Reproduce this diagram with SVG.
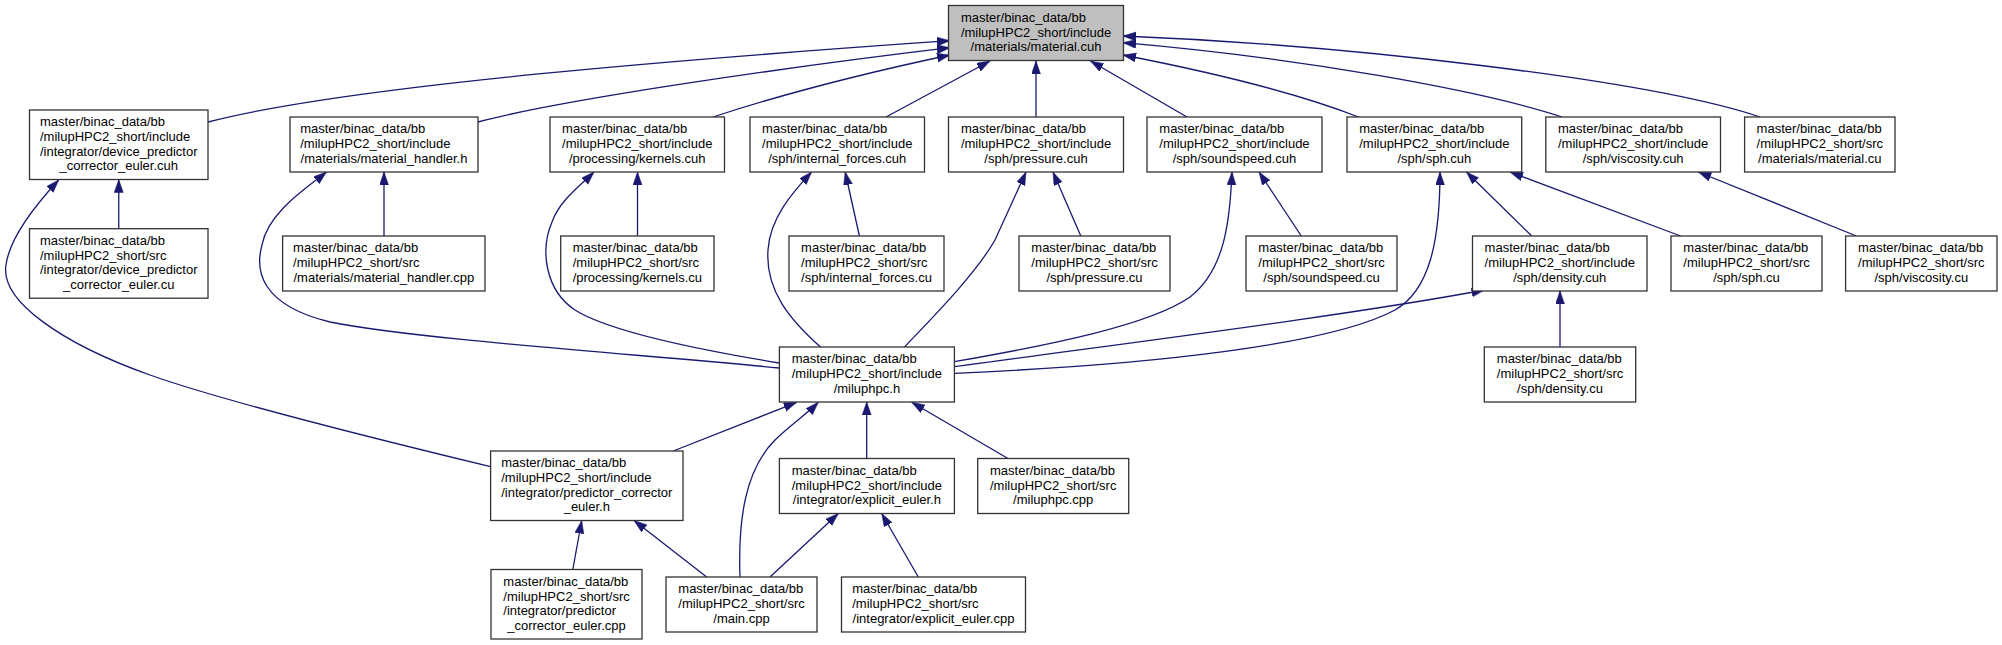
<svg xmlns="http://www.w3.org/2000/svg" width="2002" height="645" viewBox="0 0 2002 645">
<style>
.node rect{fill:#ffffff;stroke:#333333;stroke-width:1.3}
.node.main rect{fill:#bfbfbf}
text{font-family:"Liberation Sans",Arial,Helvetica,sans-serif;font-size:13px;fill:#000000}
.c{text-anchor:middle}
.edges path{fill:none;stroke:#191970;stroke-width:1.3;marker-end:url(#arr)}
</style>
<defs>
<marker id="arr" markerUnits="userSpaceOnUse" markerWidth="14" markerHeight="10" refX="13" refY="4.5" orient="auto">
<path d="M0,0 L13,4.5 L0,9 z" fill="#191970" stroke="#191970" stroke-width="0.5"/>
</marker>
</defs>
<rect x="0" y="0" width="2002" height="645" fill="#ffffff"/>
<g class="edges">
<path d="M208,122 C350,85 700,58 950,40.7"/>
<path d="M478,122 C560,100 780,68 950,47.7"/>
<path d="M713,117 C780,95 870,72 950,55"/>
<path d="M886,117 L990,61"/>
<path d="M1036,117 L1036,61"/>
<path d="M1187,117 L1090.5,61"/>
<path d="M1358.5,117 C1290,90 1200,70 1123,55"/>
<path d="M1562,117 C1480,90 1300,58 1123,42.7"/>
<path d="M1760,117 C1650,80 1350,45 1123,36"/>
<path d="M118.75,228.7 L118.75,179.5"/>
<path d="M384,236 L384,172"/>
<path d="M637.5,236 L637.5,172"/>
<path d="M859.4,236 L845.2,172"/>
<path d="M1080.8,236 L1053,172"/>
<path d="M1301.3,236 L1259,172"/>
<path d="M1531.7,236 L1466.5,172"/>
<path d="M1680.6,236 L1510,172"/>
<path d="M1856.4,236 L1698.3,172"/>
<path d="M1560,347 L1560,291"/>
<path d="M779.4,368 C650,355 420,340 330,322 C260,305 255,270 262,245 C268,212 308,187 326.5,172"/>
<path d="M779.4,363 C700,350 610,332 575,310 C545,290 540,250 552,222 C560,200 580,186 594,172"/>
<path d="M820.5,347 C790,320 765,290 768,250 C770,215 798,187 811.6,172"/>
<path d="M904.5,347 C930,320 975,275 995,240 C1008,212 1018,190 1026,172"/>
<path d="M954.3,361.7 C1050,345 1150,325 1190,297 C1225,270 1230,220 1232,172"/>
<path d="M954.3,366.7 C1150,340 1350,315 1484.6,290"/>
<path d="M954.3,373.3 C1150,365 1330,345 1395,310 C1430,290 1440,240 1440,172"/>
<path d="M673.3,451 L796.7,402.3"/>
<path d="M490.6,466.7 C380,440 220,400 150,375 C60,343 0,300 6,265 C10,235 42,198 58.7,180"/>
<path d="M740,577 C738,520 745,470 775,440 C790,425 807,414 818.3,402.3"/>
<path d="M866.7,458.5 L866.7,402"/>
<path d="M1008,458.5 L911.7,402.3"/>
<path d="M572.8,569.5 L581.7,520.5"/>
<path d="M706.7,577 L634,520.5"/>
<path d="M770,577 L838.3,513.5"/>
<path d="M918.3,577 L881.7,513.5"/>
</g>
<g id="n0" class="node main"><rect x="948.5" y="5.5" width="175" height="55"/>
<text x="960.9" y="21.8">master/binac_data/bb</text><text x="960.9" y="36.5">/milupHPC2_short/include</text><text class="c" x="1036" y="51.2">/materials/material.cuh</text></g>
<g id="n1" class="node"><rect x="29.5" y="110" width="178.5" height="69.5"/>
<text x="40" y="126.3">master/binac_data/bb</text><text x="40" y="141">/milupHPC2_short/include</text><text x="40" y="155.7">/integrator/device_predictor</text><text class="c" x="118.75" y="170.4">_corrector_euler.cuh</text></g>
<g id="n2" class="node"><rect x="290" y="117" width="188" height="55"/>
<text x="300.2" y="133.3">master/binac_data/bb</text><text x="300.2" y="148">/milupHPC2_short/include</text><text class="c" x="384" y="162.7">/materials/material_handler.h</text></g>
<g id="n3" class="node"><rect x="550" y="117" width="174.5" height="55"/>
<text x="562.1" y="133.3">master/binac_data/bb</text><text x="562.1" y="148">/milupHPC2_short/include</text><text class="c" x="637.25" y="162.7">/processing/kernels.cuh</text></g>
<g id="n4" class="node"><rect x="750" y="117" width="174.5" height="55"/>
<text x="762.1" y="133.3">master/binac_data/bb</text><text x="762.1" y="148">/milupHPC2_short/include</text><text class="c" x="837.25" y="162.7">/sph/internal_forces.cuh</text></g>
<g id="n5" class="node"><rect x="948.5" y="117" width="175" height="55"/>
<text x="960.9" y="133.3">master/binac_data/bb</text><text x="960.9" y="148">/milupHPC2_short/include</text><text class="c" x="1036" y="162.7">/sph/pressure.cuh</text></g>
<g id="n6" class="node"><rect x="1147" y="117" width="175" height="55"/>
<text x="1159.3" y="133.3">master/binac_data/bb</text><text x="1159.3" y="148">/milupHPC2_short/include</text><text class="c" x="1234.5" y="162.7">/sph/soundspeed.cuh</text></g>
<g id="n7" class="node"><rect x="1347" y="117" width="174.7" height="55"/>
<text x="1359.2" y="133.3">master/binac_data/bb</text><text x="1359.2" y="148">/milupHPC2_short/include</text><text class="c" x="1434.35" y="162.7">/sph/sph.cuh</text></g>
<g id="n8" class="node"><rect x="1545.8" y="117" width="174.7" height="55"/>
<text x="1558" y="133.3">master/binac_data/bb</text><text x="1558" y="148">/milupHPC2_short/include</text><text class="c" x="1633.15" y="162.7">/sph/viscosity.cuh</text></g>
<g id="n9" class="node"><rect x="1744.6" y="117" width="150.4" height="55"/>
<text x="1756.6" y="133.3">master/binac_data/bb</text><text x="1756.6" y="148">/milupHPC2_short/src</text><text class="c" x="1819.8" y="162.7">/materials/material.cu</text></g>
<g id="n10" class="node"><rect x="29.5" y="228.7" width="178.5" height="69.5"/>
<text x="40" y="245">master/binac_data/bb</text><text x="40" y="259.7">/milupHPC2_short/src</text><text x="40" y="274.4">/integrator/device_predictor</text><text class="c" x="118.75" y="289.1">_corrector_euler.cu</text></g>
<g id="n11" class="node"><rect x="282.6" y="236" width="202.4" height="55"/>
<text x="293.1" y="252.3">master/binac_data/bb</text><text x="293.1" y="267">/milupHPC2_short/src</text><text class="c" x="383.8" y="281.7">/materials/material_handler.cpp</text></g>
<g id="n12" class="node"><rect x="560.7" y="236" width="153.3" height="55"/>
<text x="572.7" y="252.3">master/binac_data/bb</text><text x="572.7" y="267">/milupHPC2_short/src</text><text class="c" x="637.35" y="281.7">/processing/kernels.cu</text></g>
<g id="n13" class="node"><rect x="789" y="236" width="155" height="55"/>
<text x="801.1" y="252.3">master/binac_data/bb</text><text x="801.1" y="267">/milupHPC2_short/src</text><text class="c" x="866.5" y="281.7">/sph/internal_forces.cu</text></g>
<g id="n14" class="node"><rect x="1019" y="236" width="151" height="55"/>
<text x="1031.3" y="252.3">master/binac_data/bb</text><text x="1031.3" y="267">/milupHPC2_short/src</text><text class="c" x="1094.5" y="281.7">/sph/pressure.cu</text></g>
<g id="n15" class="node"><rect x="1246" y="236" width="151" height="55"/>
<text x="1258.3" y="252.3">master/binac_data/bb</text><text x="1258.3" y="267">/milupHPC2_short/src</text><text class="c" x="1321.5" y="281.7">/sph/soundspeed.cu</text></g>
<g id="n16" class="node"><rect x="1472.5" y="236" width="174.5" height="55"/>
<text x="1484.6" y="252.3">master/binac_data/bb</text><text x="1484.6" y="267">/milupHPC2_short/include</text><text class="c" x="1559.75" y="281.7">/sph/density.cuh</text></g>
<g id="n17" class="node"><rect x="1671" y="236" width="151" height="55"/>
<text x="1683.3" y="252.3">master/binac_data/bb</text><text x="1683.3" y="267">/milupHPC2_short/src</text><text class="c" x="1746.5" y="281.7">/sph/sph.cu</text></g>
<g id="n18" class="node"><rect x="1845.6" y="236" width="151.4" height="55"/>
<text x="1858.1" y="252.3">master/binac_data/bb</text><text x="1858.1" y="267">/milupHPC2_short/src</text><text class="c" x="1921.3" y="281.7">/sph/viscosity.cu</text></g>
<g id="n19" class="node"><rect x="779.4" y="347" width="175" height="55"/>
<text x="791.7" y="363.3">master/binac_data/bb</text><text x="791.7" y="378">/milupHPC2_short/include</text><text class="c" x="866.9" y="392.7">/miluphpc.h</text></g>
<g id="n20" class="node"><rect x="1484.3" y="347" width="151.4" height="55"/>
<text x="1496.8" y="363.3">master/binac_data/bb</text><text x="1496.8" y="378">/milupHPC2_short/src</text><text class="c" x="1560" y="392.7">/sph/density.cu</text></g>
<g id="n21" class="node"><rect x="490.6" y="451" width="192.4" height="69.5"/>
<text x="501.2" y="467.3">master/binac_data/bb</text><text x="501.2" y="482">/milupHPC2_short/include</text><text x="501.2" y="496.7">/integrator/predictor_corrector</text><text class="c" x="586.8" y="511.4">_euler.h</text></g>
<g id="n22" class="node"><rect x="779.4" y="458.5" width="175" height="55"/>
<text x="791.7" y="474.8">master/binac_data/bb</text><text x="791.7" y="489.5">/milupHPC2_short/include</text><text class="c" x="866.9" y="504.2">/integrator/explicit_euler.h</text></g>
<g id="n23" class="node"><rect x="977.7" y="458.5" width="151" height="55"/>
<text x="990" y="474.8">master/binac_data/bb</text><text x="990" y="489.5">/milupHPC2_short/src</text><text class="c" x="1053.2" y="504.2">/miluphpc.cpp</text></g>
<g id="n24" class="node"><rect x="491" y="569.5" width="151" height="69.5"/>
<text x="503.3" y="585.8">master/binac_data/bb</text><text x="503.3" y="600.5">/milupHPC2_short/src</text><text x="503.3" y="615.2">/integrator/predictor</text><text class="c" x="566.5" y="629.9">_corrector_euler.cpp</text></g>
<g id="n25" class="node"><rect x="666" y="577" width="151" height="55"/>
<text x="678.3" y="593.3">master/binac_data/bb</text><text x="678.3" y="608">/milupHPC2_short/src</text><text class="c" x="741.5" y="622.7">/main.cpp</text></g>
<g id="n26" class="node"><rect x="841.5" y="577" width="184" height="55"/>
<text x="852.2" y="593.3">master/binac_data/bb</text><text x="852.2" y="608">/milupHPC2_short/src</text><text class="c" x="933.5" y="622.7">/integrator/explicit_euler.cpp</text></g>
</svg>
